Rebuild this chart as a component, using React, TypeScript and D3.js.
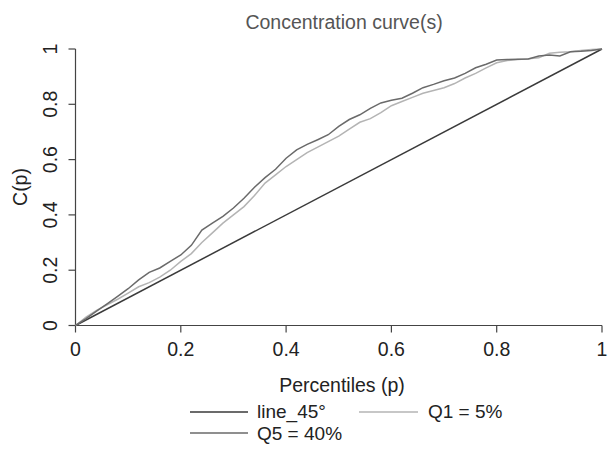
import React from "react";
import * as d3 from "d3";

const pGrid = [0, 0.02, 0.04, 0.06, 0.08, 0.1, 0.12, 0.14, 0.16, 0.18, 0.2, 0.22, 0.24, 0.26, 0.28, 0.3, 0.32, 0.34, 0.36, 0.38, 0.4, 0.42, 0.44, 0.46, 0.48, 0.5, 0.52, 0.54, 0.56, 0.58, 0.6, 0.62, 0.64, 0.66, 0.68, 0.7, 0.72, 0.74, 0.76, 0.78, 0.8, 0.82, 0.84, 0.86, 0.88, 0.9, 0.92, 0.94, 0.96, 0.98, 1];

const q5Values = [0, 0.025, 0.052, 0.078, 0.105, 0.133, 0.165, 0.192, 0.208, 0.232, 0.255, 0.29, 0.345, 0.37, 0.395, 0.425, 0.46, 0.5, 0.535, 0.565, 0.605, 0.635, 0.655, 0.672, 0.69, 0.72, 0.745, 0.762, 0.785, 0.805, 0.815, 0.822, 0.84, 0.86, 0.872, 0.885, 0.895, 0.912, 0.932, 0.945, 0.96, 0.962, 0.963, 0.964, 0.975, 0.978, 0.975, 0.99, 0.992, 0.995, 1];

const q1Values = [0, 0.03, 0.055, 0.075, 0.095, 0.117, 0.14, 0.155, 0.175, 0.2, 0.232, 0.26, 0.3, 0.335, 0.37, 0.4, 0.43, 0.47, 0.515, 0.545, 0.575, 0.6, 0.625, 0.645, 0.665, 0.685, 0.71, 0.735, 0.748, 0.77, 0.795, 0.81, 0.825, 0.84, 0.85, 0.86, 0.875, 0.895, 0.912, 0.932, 0.95, 0.958, 0.962, 0.965, 0.968, 0.985, 0.988, 0.99, 0.995, 0.998, 1];

const line45Values = [0, 1];
const line45P = [0, 1];

const xTicks = [0, 0.2, 0.4, 0.6, 0.8, 1];
const yTicks = [0, 0.2, 0.4, 0.6, 0.8, 1];

const title = "Concentration curve(s)";
const xLabel = "Percentiles (p)";
const yLabel = "C(p)";
const legendLabels = ["line_45°", "Q1 = 5%", "Q5 = 40%"];

const COL45 = "#3a3a3a";
const COLQ1 = "#b4b4b4";
const COLQ5 = "#6a6a6a";

export default function App() {
  const W = 609, H = 449;
  const x = d3.scaleLinear().domain([0, 1]).range([75.5, 602]);
  const y = d3.scaleLinear().domain([0, 1]).range([325.5, 49]);
  const line = d3.line<[number, number]>().x((d) => x(d[0])).y((d) => y(d[1]));
  const font = "'Liberation Sans', Arial, Helvetica, sans-serif";
  const fmt = (v: number) => String(v);

  const q5 = pGrid.map((p, i) => [p, q5Values[i]] as [number, number]);
  const q1 = pGrid.map((p, i) => [p, q1Values[i]] as [number, number]);
  const l45 = line45P.map((p, i) => [p, line45Values[i]] as [number, number]);

  return (
    <svg width={W} height={H} style={{ position: "absolute", left: 0, top: 0 }} fontFamily={font}>
      <rect width={W} height={H} fill="#fff" />
      <text x={344} y={29} textAnchor="middle" fontSize={19.5} fill="#555">{title}</text>

      {/* axes */}
      <g stroke="#444" strokeWidth={1.2} fill="none">
        <line x1={x(0)} x2={x(1)} y1={y(0)} y2={y(0)} />
        <line x1={x(0)} x2={x(0)} y1={y(0)} y2={y(1)} />
        {xTicks.map((t) => (
          <line key={"xt" + t} x1={x(t)} x2={x(t)} y1={y(0)} y2={y(0) + 7} />
        ))}
        {yTicks.map((t) => (
          <line key={"yt" + t} x1={x(0)} x2={x(0) - 7} y1={y(t)} y2={y(t)} />
        ))}
      </g>
      {xTicks.map((t) => (
        <text key={"xl" + t} x={x(t)} y={356} textAnchor="middle" fontSize={19.5} fill="#222">{fmt(t)}</text>
      ))}
      {yTicks.map((t) => (
        <text key={"yl" + t} transform={`translate(57,${y(t)}) rotate(-90)`} textAnchor="middle" fontSize={19.5} fill="#222">{fmt(t)}</text>
      ))}
      <text x={342} y={392} textAnchor="middle" fontSize={19.5} fill="#222">{xLabel}</text>
      <text transform={`translate(27,${187}) rotate(-90)`} textAnchor="middle" fontSize={19.5} fill="#222">{yLabel}</text>

      {/* curves */}
      <path d={line(l45) || ""} fill="none" stroke={COL45} strokeWidth={1.5} />
      <path d={line(q1) || ""} fill="none" stroke={COLQ1} strokeWidth={1.5} />
      <path d={line(q5) || ""} fill="none" stroke={COLQ5} strokeWidth={1.5} />

      {/* legend */}
      <g fontSize={19} fill="#222">
        <line x1={190} x2={248} y1={412} y2={412} stroke={COL45} strokeWidth={1.5} />
        <text x={257} y={418}>{legendLabels[0]}</text>
        <line x1={359} x2={418} y1={412} y2={412} stroke={COLQ1} strokeWidth={1.5} />
        <text x={428} y={418}>{legendLabels[1]}</text>
        <line x1={190} x2={248} y1={433} y2={433} stroke={COLQ5} strokeWidth={1.5} />
        <text x={257} y={440}>{legendLabels[2]}</text>
      </g>
    </svg>
  );
}
